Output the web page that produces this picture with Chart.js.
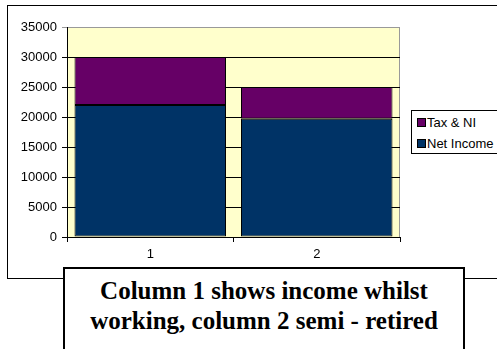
<!DOCTYPE html>
<html><head><meta charset="utf-8">
<script src="https://cdn.jsdelivr.net/npm/chart.js@4/dist/chart.umd.min.js"></script>
<style>
html,body{margin:0;padding:0;background:#fff;}
#wrap{position:relative;width:497px;height:349px;overflow:hidden;}
#frame{position:absolute;left:7px;top:5px;width:500px;height:274px;border:1.5px solid #000;box-sizing:border-box;}
#c{position:absolute;left:0;top:0;}
#legend{position:absolute;left:411px;top:110px;width:90px;height:44px;border:1px solid #000;background:#fff;box-sizing:border-box;font:13px "Liberation Sans",Arial,sans-serif;color:#000;}
.li{position:absolute;left:5px;white-space:nowrap;line-height:15px;}
.sw{display:inline-block;width:7px;height:7px;border:1px solid #000;margin-right:1px;vertical-align:0px;}
#note{position:absolute;left:63px;top:267px;width:402px;height:100px;border:2px solid #000;box-sizing:border-box;background:#fff;font-family:'Liberation Serif','Times New Roman',Times,'DejaVu Serif',serif;font-weight:bold;font-size:25px;text-align:center;line-height:30px;padding-top:7px;color:#000;}
</style></head>
<body>
<div id="wrap">
<div id="frame"></div>
<canvas id="c" width="497" height="349"></canvas>
<div id="legend"></div>
<div id="note">Column 1 shows income whilst<br>working, column 2 semi - retired</div>
</div>
<script>
const categories = ['1', '2'];
const netIncome = [22000, 19700];
const taxNI = [8000, 5300];
const seriesNames = ['Net Income', 'Tax & NI'];
const seriesColors = ['#003366', '#660066'];
const yTicks = [0, 5000, 10000, 15000, 20000, 25000, 30000, 35000];

const plotBg = {
  id: 'plotBg',
  beforeDraw(chart) {
    const a = chart.chartArea, ctx = chart.ctx;
    ctx.save();
    ctx.fillStyle = '#FFFFCC';
    ctx.fillRect(a.left, a.top, a.right - a.left, a.bottom - a.top);
    ctx.strokeStyle = '#999';
    ctx.lineWidth = 1;
    ctx.beginPath();
    ctx.moveTo(a.left, a.top + 0.5);
    ctx.lineTo(a.right - 0.5, a.top + 0.5);
    ctx.lineTo(a.right - 0.5, a.bottom);
    ctx.stroke();
    ctx.restore();
  }
};

const font = {family: '"Liberation Sans", Arial, sans-serif', size: 13};
const chart = new Chart(document.getElementById('c'), {
  type: 'bar',
  data: {
    labels: categories,
    datasets: [
      {label: seriesNames[0], data: netIncome, backgroundColor: seriesColors[0], borderColor: '#000', borderWidth: 1, borderSkipped: false},
      {label: seriesNames[1], data: taxNI, backgroundColor: seriesColors[1], borderColor: '#000', borderWidth: 1, borderSkipped: false}
    ]
  },
  options: {
    responsive: false,
    animation: false,
    devicePixelRatio: 1,
    layout: {padding: {left: 0, top: 27, right: 97, bottom: 82}},
    datasets: {bar: {barPercentage: 1, categoryPercentage: 0.91}},
    plugins: {legend: {display: false}, tooltip: {enabled: false}},
    scales: {
      x: {
        stacked: true,
        offset: true,
        grid: {offset: true, drawOnChartArea: false, color: '#000', tickLength: 5},
        border: {color: '#000'},
        ticks: {color: '#000', font: font, padding: 5},
        afterFit(s) { s.height = 30; }
      },
      y: {
        stacked: true,
        min: 0, max: 35000,
        afterBuildTicks(s) { s.ticks = yTicks.map(v => ({value: v})); },
        grid: {color: (c) => c.tick && c.tick.value === 35000 ? '#999' : '#000', tickLength: 5},
        border: {color: '#000'},
        ticks: {color: '#000', font: font, padding: 5, callback: (v) => String(v)},
        afterFit(s) { s.width = 67; }
      }
    }
  },
  plugins: [plotBg]
});

const lg = document.getElementById('legend');
[1, 0].forEach((i, k) => {
  const d = document.createElement('div');
  d.className = 'li';
  d.style.top = (4 + k * 21) + 'px';
  d.innerHTML = '<span class="sw" style="background:' + seriesColors[i] + '"></span>';
  d.appendChild(document.createTextNode(seriesNames[i]));
  lg.appendChild(d);
});
</script>
</body></html>
